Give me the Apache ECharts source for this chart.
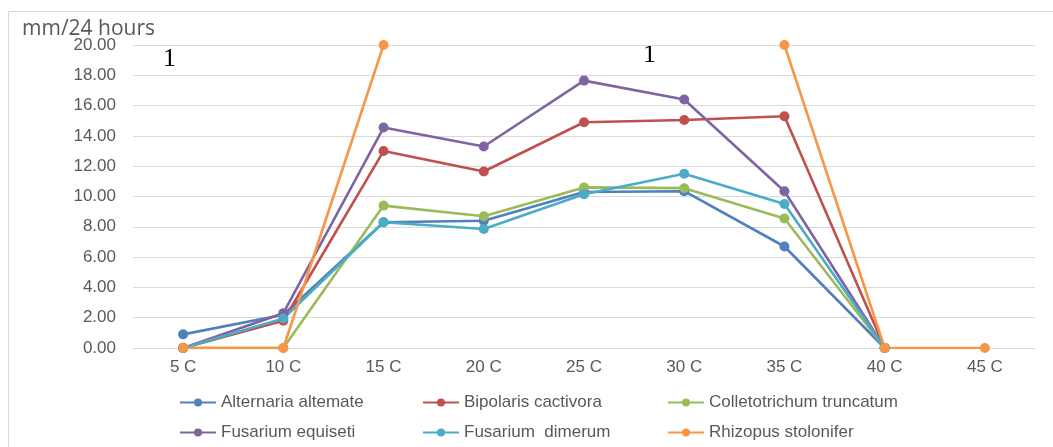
<!DOCTYPE html>
<html>
<head>
<meta charset="utf-8">
<script src="https://cdn.jsdelivr.net/npm/echarts@6/dist/echarts.min.js"></script>
<style>
  html, body { margin: 0; padding: 0; background: #fff; }
  #chart { width: 1053px; height: 447px; }
</style>
</head>
<body>
<div id="chart"></div>
<script>
var temps = ['5 C', '10 C', '15 C', '20 C', '25 C', '30 C', '35 C', '40 C', '45 C'];
var names = ['Alternaria altemate', 'Bipolaris cactivora', 'Colletotrichum truncatum',
             'Fusarium equiseti', 'Fusarium  dimerum', 'Rhizopus stolonifer'];
var alternaria = [0.9, 2.2, 8.3, 8.4, 10.3, 10.35, 6.7, 0];
var bipolaris = [0, 1.8, 13.0, 11.65, 14.9, 15.05, 15.3, 0];
var colletotrichum = [0, 0, 9.4, 8.7, 10.6, 10.55, 8.55, 0];
var equiseti = [0, 2.3, 14.55, 13.3, 17.65, 16.4, 10.35, 0];
var dimerum = [0, 1.95, 8.3, 7.85, 10.15, 11.5, 9.5, 0];
var rhizopus = [0, 0, 20, null, null, null, 20, 0, 0];
var colors = ['#4F81BD', '#C0504D', '#9BBB59', '#8064A2', '#4BACC6', '#F79646'];
var yTicks = { min: 0, max: 20, interval: 2 };

var allData = [alternaria, bipolaris, colletotrichum, equiseti, dimerum, rhizopus];
var series = allData.map(function (d, i) {
    return {
        name: names[i],
        type: 'line',
        data: d,
        symbol: 'circle',
        symbolSize: 10,
        lineStyle: { width: 2.6, color: colors[i] },
        itemStyle: { color: colors[i] },
        connectNulls: false
    };
});

var legendStyle = { fontFamily: 'Liberation Sans', fontSize: 17, color: '#595959' };
function legendCol(left, items) {
    return {
        orient: 'vertical',
        left: left,
        top: 394,
        data: items,
        itemWidth: 36,
        itemHeight: 10,
        itemGap: 13,
        textStyle: legendStyle,
        padding: 0
    };
}

var myChart = echarts.init(document.getElementById('chart'));
var option = {
    animation: false,
    color: colors,
    grid: { left: 133, right: 18, top: 45, bottom: 99 },
    legend: [
        legendCol(179, [names[0], names[3]]),
        legendCol(422, [names[1], names[4]]),
        legendCol(667, [names[2], names[5]])
    ],
    xAxis: {
        type: 'category',
        data: temps,
        boundaryGap: true,
        axisLine: { show: true, lineStyle: { color: '#d9d9d9', width: 1 } },
        axisTick: { show: false },
        axisLabel: { fontFamily: 'Liberation Sans', fontSize: 17, color: '#595959', margin: 11 }
    },
    yAxis: {
        type: 'value',
        min: yTicks.min,
        max: yTicks.max,
        interval: yTicks.interval,
        axisLine: { show: false },
        axisTick: { show: false },
        splitLine: { lineStyle: { color: '#d9d9d9', width: 1 } },
        axisLabel: {
            fontFamily: 'Liberation Sans', fontSize: 17, color: '#595959', margin: 17,
            formatter: function (v) { return v.toFixed(2); }
        }
    },
    graphic: [
        {
            type: 'rect',
            shape: { x: 8.5, y: 11.5, width: 1200, height: 600 },
            style: { fill: 'none', stroke: '#d9d9d9', lineWidth: 1 },
            silent: true
        },
        {
            type: 'text',
            left: 22,
            top: 19,
            style: { text: 'mm/24 hours', fontFamily: 'Open Sans', fontSize: 21, fill: '#595959' }
        },
        {
            type: 'text',
            left: 163,
            top: 46,
            style: { text: '1', fontFamily: 'Liberation Serif', fontSize: 26, fill: '#000' }
        },
        {
            type: 'text',
            left: 643,
            top: 42,
            style: { text: '1', fontFamily: 'Liberation Serif', fontSize: 26, fill: '#000' }
        }
    ],
    series: series
};
myChart.setOption(option);
</script>
</body>
</html>
